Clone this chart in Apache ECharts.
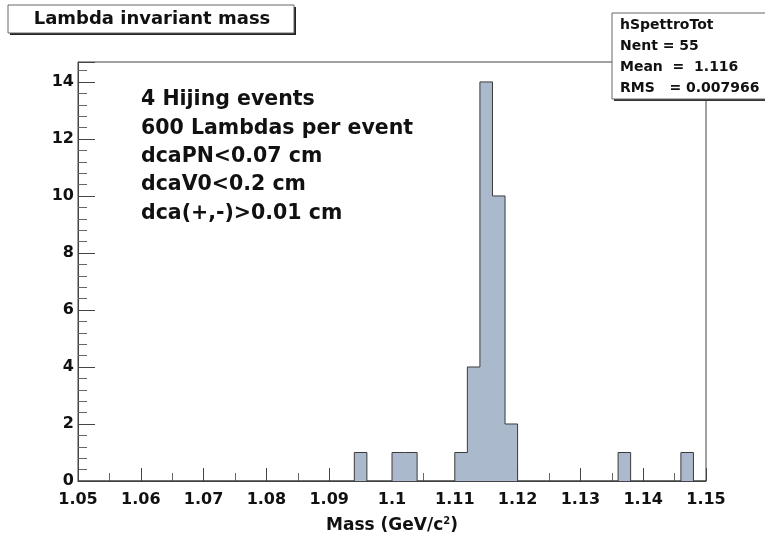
<!DOCTYPE html>
<html>
<head>
<meta charset="utf-8">
<script src="https://cdn.jsdelivr.net/npm/echarts@6/dist/echarts.min.js"></script>
<style>
html,body{margin:0;padding:0;background:#fff;}
#chart{width:765px;height:537px;}
</style>
</head>
<body>
<div id="chart"></div>
<script>
// Histogram bin lower edges (plus final upper edge), GeV/c^2
const binEdges = [
  1.050, 1.052, 1.054, 1.056, 1.058, 1.060, 1.062, 1.064, 1.066, 1.068,
  1.070, 1.072, 1.074, 1.076, 1.078, 1.080, 1.082, 1.084, 1.086, 1.088,
  1.090, 1.092, 1.094, 1.096, 1.098, 1.100, 1.102, 1.104, 1.106, 1.108,
  1.110, 1.112, 1.114, 1.116, 1.118, 1.120, 1.122, 1.124, 1.126, 1.128,
  1.130, 1.132, 1.134, 1.136, 1.138, 1.140, 1.142, 1.144, 1.146, 1.148,
  1.150
];
// Entries per bin
const counts = [
  0, 0, 0, 0, 0, 0, 0, 0, 0, 0,
  0, 0, 0, 0, 0, 0, 0, 0, 0, 0,
  0, 0, 1, 0, 0, 1, 1, 0, 0, 0,
  1, 4, 14, 10, 2, 0, 0, 0, 0, 0,
  0, 0, 0, 1, 0, 0, 0, 0, 1, 0
];
const xTickLabels = ['1.05','1.06','1.07','1.08','1.09','1.1','1.11','1.12','1.13','1.14','1.15'];
const yTickLabels = ['0','2','4','6','8','10','12','14'];
const titleText = 'Lambda invariant mass';
const statsLines = ['hSpettroTot', 'Nent = 55', 'Mean  =  1.116', 'RMS   = 0.007966'];
const noteLines = ['4 Hijing events', '600 Lambdas per event', 'dcaPN<0.07 cm', 'dcaV0<0.2 cm', 'dca(+,-)>0.01 cm'];

const histData = binEdges.map((e, i) => [e, i < counts.length ? counts[i] : 0]);

const FONT = '"DejaVu Sans", Verdana, sans-serif';
const chart = echarts.init(document.getElementById('chart'), null, {renderer: 'canvas'});

const graphics = [];
// title box
graphics.push({type:'rect', z:100, shape:{x:10, y:7, width:286, height:28}, style:{fill:'#222'}});
graphics.push({type:'rect', z:101, shape:{x:8, y:5, width:286, height:28}, style:{fill:'#fff', stroke:'#666', lineWidth:1}});
graphics.push({type:'text', z:102, x:152, y:19, style:{text:titleText, font:'bold 18px ' + FONT, fill:'#111', align:'center', verticalAlign:'middle'}});
// stats box
graphics.push({type:'rect', z:100, shape:{x:614, y:15, width:160, height:86}, style:{fill:'#333'}});
graphics.push({type:'rect', z:101, shape:{x:612, y:13, width:160, height:86}, style:{fill:'#fff', stroke:'#666', lineWidth:1}});
statsLines.forEach((t, i) => {
  graphics.push({type:'text', z:102, x:620, y:25.5 + i * 20.8, style:{text:t, font:'bold 14px ' + FONT, fill:'#111', align:'left', verticalAlign:'middle'}});
});
// annotation text
noteLines.forEach((t, i) => {
  graphics.push({type:'text', z:50, x:141, y:100 + i * 28.3, style:{text:t, font:'bold 20.5px ' + FONT, fill:'#111', align:'left', verticalAlign:'middle'}});
});

chart.setOption({
  animation: false,
  backgroundColor: '#fff',
  grid: {left: 78, right: 59, top: 62, bottom: 56, outerBoundsMode: 'none', containLabel: false,
         show: true, borderColor: '#444', borderWidth: 1, backgroundColor: 'transparent'},
  xAxis: {
    type: 'value', min: 1.05, max: 1.15, interval: 0.01,
    axisLine: {show: true, onZero: false, lineStyle: {color: '#444', width: 1}},
    axisTick: {show: true, inside: true, length: 13, lineStyle: {color: '#444'}},
    minorTick: {show: true, splitNumber: 2, length: 8, lineStyle: {color: '#666'}},
    splitLine: {show: false},
    axisLabel: {
      margin: 11, color: '#111', fontFamily: FONT, fontWeight: 'bold', fontSize: 16,
      formatter: v => {
        const idx = Math.round((v - 1.05) / 0.01);
        return (idx >= 0 && idx < xTickLabels.length) ? xTickLabels[idx] : '';
      }
    },
    name: '{a|Mass (GeV/c}{s|2}{a|)}',
    nameLocation: 'middle', nameGap: 35,
    nameTextStyle: {
      rich: {
        a: {fontFamily: FONT, fontWeight: 'bold', fontSize: 17, color: '#111'},
        s: {fontFamily: FONT, fontWeight: 'bold', fontSize: 10, color: '#111', verticalAlign: 'top', padding: [0, 0, 10, 0]}
      }
    }
  },
  yAxis: {
    type: 'value', min: 0, max: 14.7, interval: 2,
    axisLine: {show: true, lineStyle: {color: '#444', width: 1}},
    axisTick: {show: true, inside: true, length: 17, lineStyle: {color: '#444'}},
    minorTick: {show: true, splitNumber: 5, length: 9, lineStyle: {color: '#666'}},
    splitLine: {show: false},
    axisLabel: {
      margin: 4, color: '#111', fontFamily: FONT, fontWeight: 'bold', fontSize: 16,
      showMaxLabel: false,
      formatter: v => {
        const idx = Math.round(v / 2);
        return (Math.abs(v - idx * 2) < 1e-6 && idx < yTickLabels.length) ? yTickLabels[idx] : '';
      }
    }
  },
  series: [{
    type: 'line',
    data: histData,
    step: 'end',
    symbol: 'none',
    lineStyle: {color: '#3a3a3a', width: 1},
    areaStyle: {color: '#aab9cb', opacity: 1, origin: 'start'},
    z: 3
  }],
  graphic: graphics
});
</script>
</body>
</html>
